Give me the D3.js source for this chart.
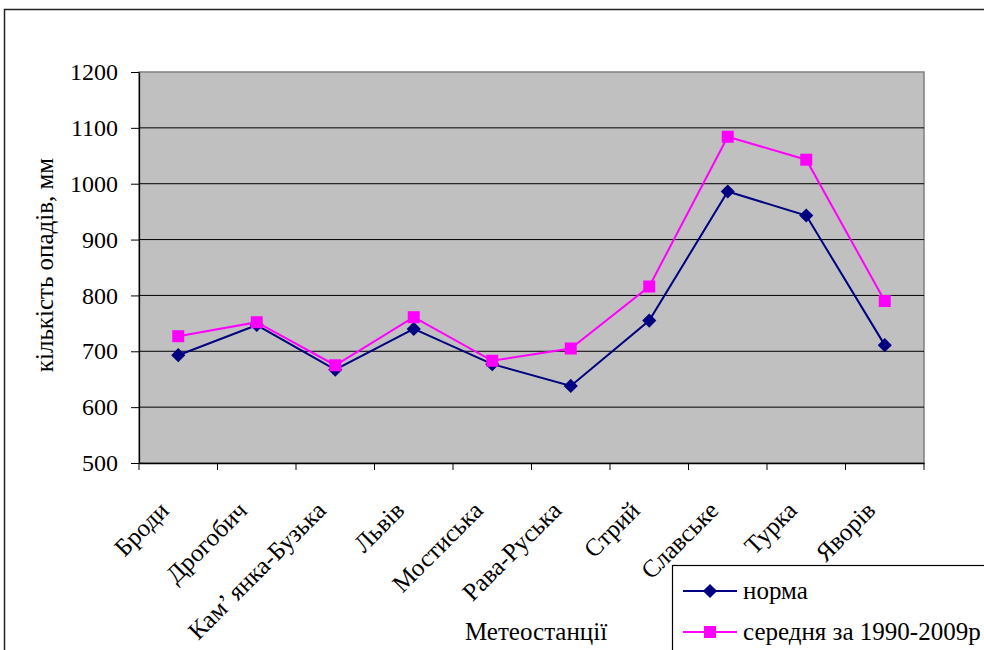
<!DOCTYPE html>
<html><head><meta charset="utf-8">
<script src="https://cdn.jsdelivr.net/npm/d3@7"></script>
<style>body{margin:0;background:#fff}svg{display:block}svg text{font-family:"Liberation Serif","Times New Roman",serif;fill:#000}</style>
</head><body><svg id="c" width="984" height="650"></svg>
<script>
const categories = ["Броди","Дрогобич","Кам’ янка-Бузька","Львів","Мостиська","Рава-Руська","Стрий","Славське","Турка","Яворів"];
const norma = [693,747,667,740,677,638,755,986,943,711];
const avg9009 = [727,752,675,761,683,705,816,1084,1043,790];
const yTicks = [500,600,700,800,900,1000,1100,1200];
const seriesNames = ["норма","середня за 1990-2009р"];

const svg = d3.select("#c");
const L=139,R=924,T=72,B=463;
const SERIF = "'Liberation Serif','Times New Roman',serif";
svg.append("rect").attr("x",4.5).attr("y",9.5).attr("width",1000).attr("height",700).attr("fill","none").attr("stroke","#222").attr("stroke-width",1.5);

const x = d3.scaleBand().domain(categories).range([L,R]).padding(0);
const y = d3.scaleLinear().domain([500,1200]).range([B,T]);

svg.append("rect").attr("x",L).attr("y",T).attr("width",R-L).attr("height",B-T).attr("fill","#C0C0C0").attr("stroke","#808080").attr("stroke-width",1.5);
svg.append("g").selectAll("line").data(yTicks.slice(1,-1)).join("line")
  .attr("x1",L).attr("x2",R).attr("y1",d=>y(d)).attr("y2",d=>y(d)).attr("stroke","#000").attr("stroke-width",1);

const ya = svg.append("g").attr("transform",`translate(${L},0)`)
  .call(d3.axisLeft(y).tickValues(yTicks).tickFormat(d3.format("d")).tickSize(8).tickSizeOuter(0).tickPadding(13));
ya.attr("font-family",null).attr("font-size",null);
ya.select(".domain").attr("stroke","#000").attr("stroke-width",1.3);
ya.selectAll(".tick line").attr("stroke","#000");
ya.selectAll("text").style("font-size","24px").style("font-family",SERIF);

const xa = svg.append("g").attr("transform",`translate(0,${B})`).call(d3.axisBottom(x).tickSize(0).tickSizeOuter(0));
xa.select(".domain").attr("stroke","#000").attr("stroke-width",1.3);
xa.selectAll("text").remove();
svg.append("g").selectAll("line").data(d3.range(categories.length+1)).join("line")
  .attr("x1",i=>L+i*x.step()).attr("x2",i=>L+i*x.step()).attr("y1",B).attr("y2",B+7).attr("stroke","#000");
svg.append("g").selectAll("text").data(categories).join("text")
  .attr("transform",d=>`translate(${x(d)+x.bandwidth()/2-8},${B+49}) rotate(-45)`)
  .attr("text-anchor","end").style("font-size","25px").style("font-family",SERIF).text(d=>d);

svg.append("text").attr("transform","translate(53,265) rotate(-90)").attr("text-anchor","middle").style("font-size","25px").style("font-family",SERIF).text("кількість опадів, мм");
svg.append("text").attr("x",536).attr("y",640).attr("text-anchor","middle").style("font-size","25px").style("font-family",SERIF).text("Метеостанції");

const line = d3.line().x((d,i)=>x(categories[i])+x.bandwidth()/2).y(d=>y(d));
const colors = ["#000080","#FF00FF"];
function drawSeries(data,color,type){
  svg.append("path").datum(data).attr("d",line).attr("fill","none").attr("stroke",color).attr("stroke-width",2);
  const g = svg.append("g").selectAll("g").data(data).join("g")
    .attr("transform",(d,i)=>`translate(${x(categories[i])+x.bandwidth()/2},${y(d)})`);
  if(type==="d") g.append("rect").attr("x",-5).attr("y",-5).attr("width",10).attr("height",10).attr("transform","rotate(45)").attr("fill",color);
  else g.append("rect").attr("x",-6).attr("y",-6).attr("width",12).attr("height",12).attr("fill",color);
}
drawSeries(norma,colors[0],"d");
drawSeries(avg9009,colors[1],"s");

const lg = svg.append("g");
lg.append("rect").attr("x",672.5).attr("y",565.5).attr("width",400).attr("height",200).attr("fill","#fff").attr("stroke","#000").attr("stroke-width",1.2);
seriesNames.forEach((n,i)=>{
  const yy = 591 + i*41;
  lg.append("line").attr("x1",683).attr("x2",737).attr("y1",yy).attr("y2",yy).attr("stroke",colors[i]).attr("stroke-width",2);
  if(i===0) lg.append("rect").attr("x",-5).attr("y",-5).attr("width",10).attr("height",10).attr("transform",`translate(710,${yy}) rotate(45)`).attr("fill",colors[i]);
  else lg.append("rect").attr("x",704).attr("y",yy-6).attr("width",12).attr("height",12).attr("fill",colors[i]);
  lg.append("text").attr("x",743).attr("y",yy+8).style("font-size","25px").style("font-family",SERIF).text(n);
});
</script></body></html>
